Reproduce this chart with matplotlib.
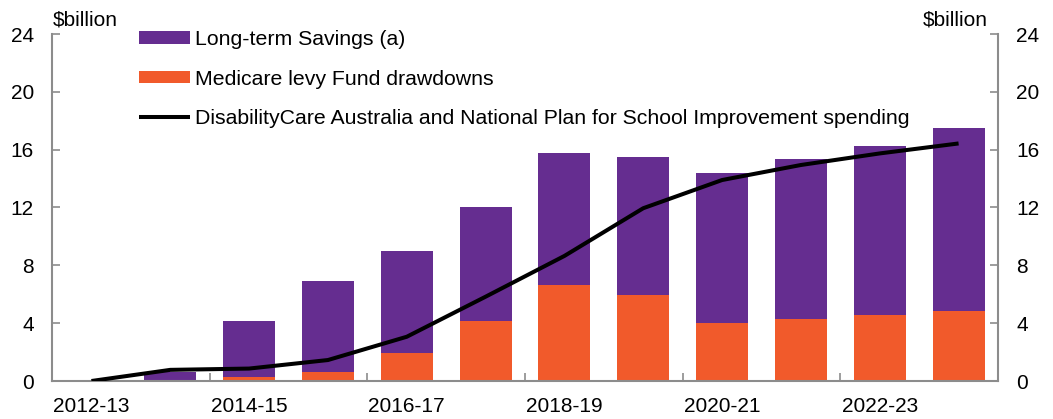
import matplotlib
matplotlib.use("Agg")
import matplotlib.pyplot as plt
import numpy as np

plt.rcParams['font.family'] = ['Liberation Sans', 'DejaVu Sans']

years = ["2012-13", "2013-14", "2014-15", "2015-16", "2016-17", "2017-18",
         "2018-19", "2019-20", "2020-21", "2021-22", "2022-23", "2023-24"]
medicare = [0.0, 0.0, 0.3, 0.6, 1.96, 4.15, 6.64, 5.95, 4.03, 4.29, 4.56, 4.84]
totals = [0.05, 0.6, 4.15, 6.9, 9.0, 12.0, 15.75, 15.47, 14.36, 15.33, 16.27, 17.52]
savings = [t - m for t, m in zip(totals, medicare)]
spending = [0.0, 0.77, 0.86, 1.45, 3.06, 5.83, 8.65, 11.95, 13.9, 14.94, 15.74, 16.43]

label_sav = "Long-term Savings (a)"
label_med = "Medicare levy Fund drawdowns"
label_line = "DisabilityCare Australia and National Plan for School Improvement spending"

purple = "#652D90"
orange = "#F15A2B"
grey = "#8C8C8C"

fig = plt.figure(figsize=(10.53, 4.19), dpi=100)
ax = fig.add_axes([52/1053, 1-381/419, (998-52)/1053, (381-34)/419])

x = np.arange(len(years))
bw = 0.66
b_med = ax.bar(x, medicare, bw, color=orange, edgecolor='none', zorder=2)
b_sav = ax.bar(x, savings, bw, bottom=medicare, color=purple, edgecolor='none', zorder=2)
ln, = ax.plot(x, spending, color='black', lw=2.9, zorder=3, solid_capstyle='butt')

ax.set_xlim(-0.5, len(years) - 0.5)
ax.set_ylim(0, 24)
yt = [0, 4, 8, 12, 16, 20, 24]
ax.set_yticks(yt)
ax.set_yticklabels([str(v) for v in yt])

ax.set_xticks(x[::2])
ax.set_xticklabels(years[::2])
ax.set_xticks(np.arange(1.5, len(years) - 1, 2), minor=True)
ax.tick_params(axis='x', which='major', length=0, pad=11.5, labelsize=15)
ax.tick_params(axis='x', which='minor', direction='in', length=6, width=1.2, color=grey)
ax.tick_params(axis='y', which='major', direction='in', length=6, width=1.2, color=grey,
               left=True, right=True, labelleft=True, labelright=True, labelsize=15, pad=13)

for s in ['left', 'right', 'bottom']:
    ax.spines[s].set_color(grey)
    ax.spines[s].set_linewidth(1.5)
ax.spines['top'].set_visible(False)

fig.text(53/1053, 1-20/419, "$billion", fontsize=15, ha='left', va='center')
fig.text(988/1053, 1-20/419, "$billion", fontsize=15, ha='right', va='center')

leg = fig.legend([b_sav, b_med, ln], [label_sav, label_med, label_line],
                 loc='upper left', bbox_to_anchor=(139/1053, 1-30/419),
                 frameon=False, fontsize=15.3, handlelength=2.4, handleheight=0.55,
                 handletextpad=0.25, labelspacing=0.97, borderpad=0, borderaxespad=0)

fig.savefig("out.png", dpi=100)
